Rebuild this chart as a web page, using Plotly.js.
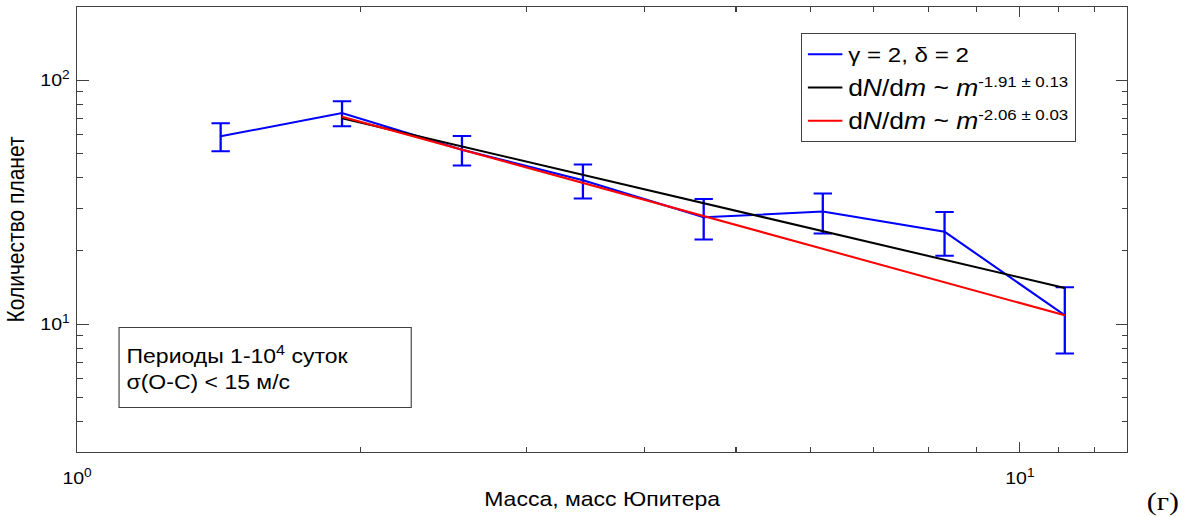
<!DOCTYPE html>
<html>
<head>
<meta charset="utf-8">
<script src="https://cdn.plot.ly/plotly-3.0.1.min.js"></script>
<style>
html,body{margin:0;padding:0;background:#fff;overflow:hidden;}
#wrap{width:1194px;height:517px;overflow:hidden;}
#chart{width:1038px;height:517px;transform-origin:0 0;}
</style>
</head>
<body>
<div id="wrap"><div id="chart"></div></div>
<script>
// Mass bins (Jupiter masses) and planet counts
const massBins = [1.42, 1.91, 2.56, 3.44, 4.62, 6.18, 8.32, 11.16];
const planetCounts = [59, 73.5, 52, 39, 27.5, 29, 24, 10.9];
const countErrors = [7.7, 8.6, 7.2, 6.2, 5.2, 5.4, 4.9, 3.3];

// Power-law fits (endpoints)
const fitMass = [1.91, 11.16];
const fitBlack = [70, 14.1];
const fitRed = [71, 10.9];

const legendNames = [
  '\u03b3 = 2, \u03b4 = 2',
  '<span style="font-size:23px">d<i>N</i>/d<i>m</i> ~ <i>m</i></span><sup>-1.91 \u00b1 0.13</sup>',
  '<span style="font-size:23px">d<i>N</i>/d<i>m</i> ~ <i>m</i></span><sup>-2.06 \u00b1 0.03</sup>'
];

const xTickVals = [1, 10];
const xTickText = ['10<sup>0</sup>', '10<sup>1</sup>'];
const yTickVals = [10, 100];
const yTickText = ['10<sup>1</sup>', '10<sup>2</sup>'];
const xMinor = [2,3,4,5,6,7,8,9,11,12,13];
const yMinor = [3,4,5,6,7,8,9,20,30,40,50,60,70,80,90,200];

const FONT = 'Arial, "Liberation Sans", sans-serif';
const W = 1038, H = 517;
const SX = 1194 / W;            // horizontal stretch of the original figure
document.getElementById('chart').style.transform = 'scaleX(' + SX + ')';
const M = {l: 67, r: 58, t: 7, b: 65};
const pw = W - M.l - M.r, ph = H - M.t - M.b;
const px2paperX = p => (p / SX - M.l) / pw;
const px2paperY = p => 1 - (p - M.t) / ph;

const traces = [
  {
    x: massBins, y: planetCounts, type: 'scatter', mode: 'lines',
    name: legendNames[0], legendgroup: 'a',
    line: {color: '#0000ff', width: 2},
    error_y: {type: 'data', array: countErrors, visible: true, color: '#0000ff', thickness: 2, width: 8}
  },
  {
    x: fitMass, y: fitBlack, type: 'scatter', mode: 'lines',
    name: legendNames[1], legendgroup: 'b',
    line: {color: '#000000', width: 2}
  },
  {
    x: fitMass, y: fitRed, type: 'scatter', mode: 'lines',
    name: legendNames[2], legendgroup: 'c',
    line: {color: '#ff0000', width: 2}
  }
];

const axisCommon = {
  type: 'log', showgrid: false, zeroline: false,
  showline: true, linecolor: '#404040', linewidth: 1, mirror: 'ticks',
  ticks: 'inside', ticklen: 10, tickcolor: '#404040', tickwidth: 1,
  tickmode: 'array',
  tickfont: {family: FONT, size: 17, color: '#000'}
};

const layout = {
  width: W, height: H,
  paper_bgcolor: '#fff', plot_bgcolor: '#fff',
  margin: M,
  showlegend: true,
  legend: {
    x: px2paperX(801), y: px2paperY(33), xanchor: 'left', yanchor: 'top',
    bordercolor: '#404040', borderwidth: 1, bgcolor: '#fff',
    font: {family: FONT, size: 21, color: '#000'},
    tracegroupgap: 3
  },
  xaxis: Object.assign({}, axisCommon, {
    range: [0, Math.log10(13)],
    tickvals: xTickVals, ticktext: xTickText,
    ticklabelstandoff: 11,
    minor: {tickmode: 'array', tickvals: xMinor, ticks: 'inside', ticklen: 5, tickcolor: '#404040'},
    title: {text: 'Масса, масс Юпитера', font: {family: FONT, size: 20, color: '#000'}, standoff: 4}
  }),
  yaxis: Object.assign({}, axisCommon, {
    range: [Math.log10(3), Math.log10(200)],
    tickvals: yTickVals, ticktext: yTickText,
    ticklabelstandoff: 2,
    minor: {tickmode: 'array', tickvals: yMinor, ticks: 'inside', ticklen: 5, tickcolor: '#404040'},
    title: {text: 'Количество планет', font: {family: FONT, size: 21, color: '#000'}, standoff: 7}
  }),
  annotations: [
    {
      xref: 'paper', yref: 'paper', x: px2paperX(119), y: px2paperY(327), xanchor: 'left', yanchor: 'top',
      text: 'Периоды 1-10<sup>4</sup> суток<br>\u03c3(O-C) < 15 м/с',
      showarrow: false, align: 'left', valign: 'middle',
      font: {family: FONT, size: 20, color: '#000'},
      bordercolor: '#404040', borderwidth: 1, borderpad: 6, bgcolor: '#fff',
      width: 293 / SX - 14, height: 67
    },
    {
      xref: 'paper', yref: 'paper', x: px2paperX(1163), y: px2paperY(501), xanchor: 'center', yanchor: 'middle',
      text: '(г)', showarrow: false,
      font: {family: '"Liberation Serif", "Times New Roman", serif', size: 26, color: '#000'}
    }
  ]
};

Plotly.newPlot('chart', traces, layout, {displayModeBar: false, staticPlot: true});
</script>
</body>
</html>
